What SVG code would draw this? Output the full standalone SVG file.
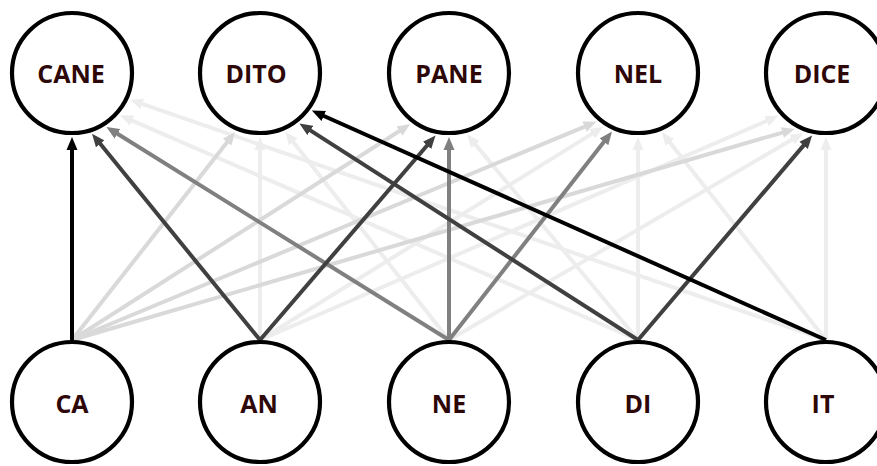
<svg xmlns="http://www.w3.org/2000/svg" width="877" height="466" viewBox="0 0 877 466">
<style>
.node circle{fill:#fff;stroke:#000;stroke-width:4.2}
.node text{font-family:"Open Sans","Liberation Sans",sans-serif;font-weight:bold;font-size:25px;fill:#2e0808;text-anchor:middle}
.e{fill:none;stroke-width:4}
.c0{stroke:#000}.c1{stroke:#404040}.c2{stroke:#808080}.c3{stroke:#d9d9d9}.c4{stroke:#ededed}
</style>
<defs>
<marker id="m0" markerUnits="userSpaceOnUse" markerWidth="14" markerHeight="12" viewBox="0 -6 14 12" refX="1" refY="0" orient="auto"><path d="M0,-5.5 L13,0 L0,5.5 z" fill="#000"/></marker>
<marker id="m1" markerUnits="userSpaceOnUse" markerWidth="14" markerHeight="12" viewBox="0 -6 14 12" refX="1" refY="0" orient="auto"><path d="M0,-5.5 L13,0 L0,5.5 z" fill="#404040"/></marker>
<marker id="m2" markerUnits="userSpaceOnUse" markerWidth="14" markerHeight="12" viewBox="0 -6 14 12" refX="1" refY="0" orient="auto"><path d="M0,-5.5 L13,0 L0,5.5 z" fill="#808080"/></marker>
<marker id="m3" markerUnits="userSpaceOnUse" markerWidth="14" markerHeight="12" viewBox="0 -6 14 12" refX="1" refY="0" orient="auto"><path d="M0,-5.5 L13,0 L0,5.5 z" fill="#d9d9d9"/></marker>
<marker id="m4" markerUnits="userSpaceOnUse" markerWidth="14" markerHeight="12" viewBox="0 -6 14 12" refX="1" refY="0" orient="auto"><path d="M0,-5.5 L13,0 L0,5.5 z" fill="#ededed"/></marker>
</defs>
<g id="connectors">
<line class="e c4" marker-end="url(#m4)" x1="260" y1="340" x2="260" y2="149"/>
<line class="e c4" marker-end="url(#m4)" x1="260" y1="340" x2="593.1" y2="133.1"/>
<line class="e c4" marker-end="url(#m4)" x1="260" y1="340" x2="767.4" y2="120.6"/>
<line class="e c4" marker-end="url(#m4)" x1="449" y1="340" x2="292.7" y2="141.2"/>
<line class="e c4" marker-end="url(#m4)" x1="449" y1="340" x2="793.0" y2="139.0"/>
<line class="e c4" marker-end="url(#m4)" x1="638" y1="340" x2="131.0" y2="120.1"/>
<line class="e c4" marker-end="url(#m4)" x1="638" y1="340" x2="474.7" y2="143.6"/>
<line class="e c4" marker-end="url(#m4)" x1="638" y1="340" x2="638" y2="149"/>
<line class="e c4" marker-end="url(#m4)" x1="826" y1="340" x2="141.4" y2="103.7"/>
<line class="e c4" marker-end="url(#m4)" x1="826" y1="340" x2="669.3" y2="141.7"/>
<line class="e c4" marker-end="url(#m4)" x1="826" y1="340" x2="826" y2="149"/>
<line class="e c3" marker-end="url(#m3)" x1="72" y1="340" x2="227.7" y2="141.4"/>
<line class="e c3" marker-end="url(#m3)" x1="72" y1="340" x2="400.2" y2="130.5"/>
<line class="e c3" marker-end="url(#m3)" x1="72" y1="340" x2="585.4" y2="126.3"/>
<line class="e c3" marker-end="url(#m3)" x1="72" y1="340" x2="783.3" y2="132.3"/>
<line class="e c2" marker-end="url(#m2)" x1="449" y1="340" x2="116.6" y2="133.3"/>
<line class="e c2" marker-end="url(#m2)" x1="449" y1="340" x2="449" y2="149"/>
<line class="e c2" marker-end="url(#m2)" x1="449" y1="340" x2="604.6" y2="141.0"/>
<line class="e c1" marker-end="url(#m1)" x1="260" y1="340" x2="99.6" y2="143.1"/>
<line class="e c1" marker-end="url(#m1)" x1="260" y1="340" x2="427.7" y2="144.7"/>
<line class="e c1" marker-end="url(#m1)" x1="638" y1="340" x2="309.5" y2="129.9"/>
<line class="e c1" marker-end="url(#m1)" x1="638" y1="340" x2="804.3" y2="144.6"/>
<line class="e c0" marker-end="url(#m0)" x1="72" y1="340" x2="72" y2="149"/>
<line class="e c0" marker-end="url(#m0)" x1="826" y1="340" x2="322.8" y2="115.5"/>
</g>
<g id="CANE" class="node"><circle cx="72" cy="73" r="60"/><text x="71" y="83">CANE</text></g>
<g id="DITO" class="node"><circle cx="260" cy="73" r="60"/><text x="256" y="83">DITO</text></g>
<g id="PANE" class="node"><circle cx="449" cy="73" r="60"/><text x="449" y="83">PANE</text></g>
<g id="NEL" class="node"><circle cx="638" cy="73" r="60"/><text x="638" y="83">NEL</text></g>
<g id="DICE" class="node"><circle cx="826" cy="73" r="60"/><text x="822" y="83">DICE</text></g>
<g id="CA" class="node"><circle cx="72" cy="402" r="60"/><text x="72" y="413">CA</text></g>
<g id="AN" class="node"><circle cx="260" cy="402" r="60"/><text x="259" y="413">AN</text></g>
<g id="NE" class="node"><circle cx="449" cy="402" r="60"/><text x="449" y="413">NE</text></g>
<g id="DI" class="node"><circle cx="638" cy="402" r="60"/><text x="638" y="413">DI</text></g>
<g id="IT" class="node"><circle cx="826" cy="402" r="60"/><text x="823" y="413">IT</text></g>
</svg>
